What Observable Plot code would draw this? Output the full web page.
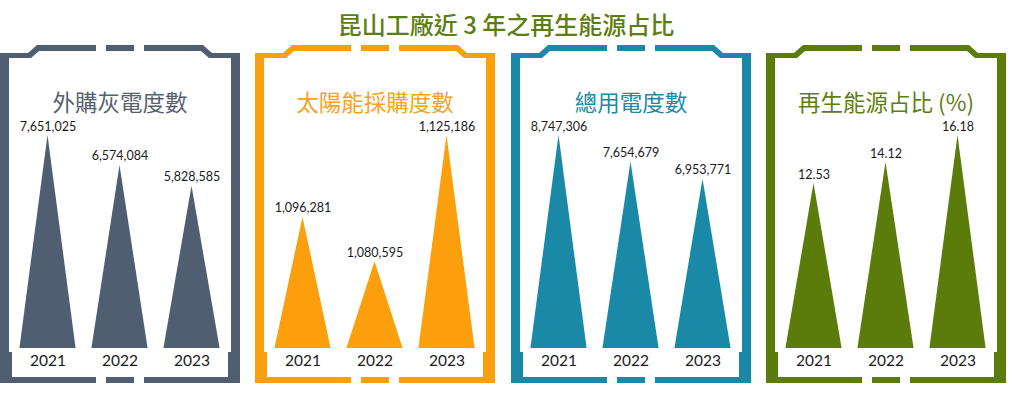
<!DOCTYPE html>
<html><head><meta charset="utf-8">
<script src="https://cdn.jsdelivr.net/npm/d3@7"></script>
<script src="https://cdn.jsdelivr.net/npm/@observablehq/plot@0.6"></script>
<style>
body{margin:0;background:#fff;width:1012px;height:395px;overflow:hidden;position:relative;font-family:Lato,"Noto Sans CJK TC",sans-serif}
#title{position:absolute;left:0;width:1012px;top:8px;text-align:center;font-size:24px;font-weight:500;color:#5b7d12;font-family:"Noto Sans CJK TC",sans-serif;line-height:32px;}
.panel{position:absolute;top:40px}
</style></head><body>
<div id="title">昆山工廠近 3 年之再生能源占比</div>
<div id="charts"></div>
<script>
const years = ["2021", "2022", "2023"];
const panelTitles = ["外購灰電度數", "太陽能採購度數", "總用電度數", "再生能源占比 (%)"];
const gridPower = [7651025, 6574084, 5828585];
const solarPurchase = [1096281, 1080595, 1125186];
const totalPower = [8747306, 7654679, 6953771];
const renewableShare = [12.53, 14.12, 16.18];
const axisMin = [0, 1050000, 0, 0];
const valueFormats = [",", ",", ",", ".2f"];

const seriesList = [gridPower, solarPurchase, totalPower, renewableShare];
const colors = ["#4f5e70", "#fba00c", "#1a89a8", "#5b7b0b"];
const titleColors = ["#566170", "#f7a21e", "#1d89a8", "#5e7e12"];
const panelLefts = [0, 255, 511, 766];
const spikeHalf = 0.39;

// decorative frame (panel-local pixel geometry, not data)
const frameLeft = [[0,383],[0,53],[28,53],[37,45],[96,45],[96,51],[39,51],[31,58],[9,58],[9,352],[12,352],[12,377],[96,377],[96,383]];
const frameRight = frameLeft.map(([x,y]) => [240 - x, y]);
const dashes = [[[106,45],[134,45],[134,51],[106,51]], [[106,377],[134,377],[134,383],[106,383]]];
const frameShapes = [frameLeft, frameRight, ...dashes];

const container = document.getElementById("charts");
seriesList.forEach((values, p) => {
  const base = axisMin[p];
  const rows = years.map((year, i) => ({year, i, value: values[i]}));
  const spikes = rows.flatMap(r => [
    {x: r.i - spikeHalf, y: base, z: r.year},
    {x: r.i, y: r.value, z: r.year},
    {x: r.i + spikeHalf, y: base, z: r.year}
  ]);
  const fmt = d3.format(valueFormats[p]);
  const plot = Plot.plot({
    width: 242,
    height: 346,
    marginTop: 95,
    marginBottom: 38,
    marginLeft: 11.5,
    marginRight: 14.5,
    style: {background: "transparent", fontFamily: "Lato, 'Noto Sans CJK TC', sans-serif", overflow: "visible"},
    x: {domain: [-0.5, 2.5], axis: null},
    y: {domain: [base, d3.max(values)], axis: null},
    marks: [
      Plot.area(spikes, {x1: "x", y1: base, y2: "y", z: "z", fill: colors[p], curve: "linear"}),
      Plot.text(rows, {x: "i", y: "value", text: d => fmt(d.value), dy: -9, fontSize: 12.5, fill: "#1a1a1a"}),
      Plot.text(rows, {x: "i", y: base, text: "year", dy: 13, fontSize: 15.5, fill: "#1a1a1a"}),
      Plot.text([panelTitles[p]], {frameAnchor: "top", text: d => d, dy: -40, fontSize: 22.5, fill: titleColors[p], fontFamily: "'Noto Sans CJK TC', sans-serif"})
    ]
  });
  const svg = d3.select(plot);
  const g = svg.insert("g", ":first-child");
  frameShapes.forEach(shape => {
    g.append("path")
      .attr("d", "M" + shape.map(([x,y]) => `${x},${y - 40}`).join("L") + "Z")
      .attr("fill", colors[p]);
  });
  const div = document.createElement("div");
  div.className = "panel";
  div.style.left = panelLefts[p] + "px";
  div.appendChild(plot);
  container.appendChild(div);
});
</script>
</body></html>
